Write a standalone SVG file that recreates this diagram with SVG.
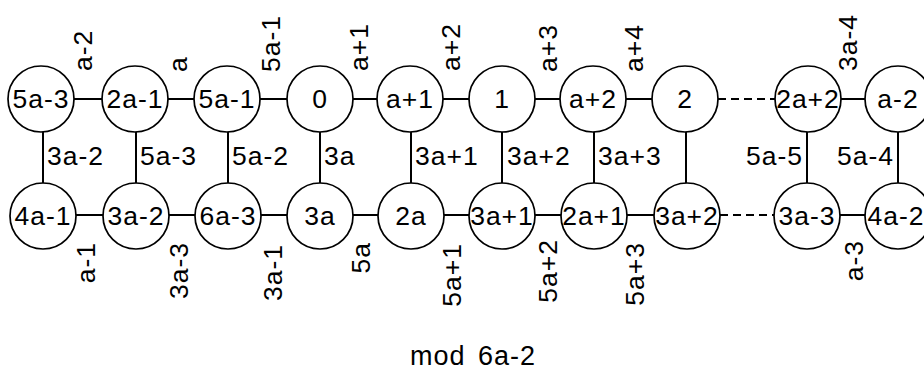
<svg xmlns="http://www.w3.org/2000/svg" width="924" height="370" viewBox="0 0 924 370">
<style>
  .n circle { fill: #fff; stroke: #000; stroke-width: 1.7; }
  text { font-family: "Liberation Sans", Arial, sans-serif; font-size: 26.5px; fill: #000; letter-spacing: 1px; }
  .c { text-anchor: middle; }
  .e line { stroke: #000; stroke-width: 2; }
  .e line.d { stroke-dasharray: 8 5; }
  .tl { text-anchor: start; }
  .bl { text-anchor: end; }
</style>
<rect width="924" height="370" fill="#fff"/>
<g id="connectors" class="e">
  <line x1="74" y1="99" x2="102" y2="99"/>
  <line x1="168" y1="99" x2="194" y2="99"/>
  <line x1="260" y1="99" x2="287" y2="99"/>
  <line x1="353" y1="99" x2="377" y2="99"/>
  <line x1="443" y1="99" x2="469" y2="99"/>
  <line x1="535" y1="99" x2="560" y2="99"/>
  <line x1="626" y1="99" x2="652" y2="99"/>
  <line class="d" x1="718" y1="99" x2="775" y2="99"/>
  <line x1="841" y1="99" x2="865" y2="99"/>
  <line x1="76" y1="215" x2="103" y2="215"/>
  <line x1="169" y1="215" x2="195" y2="215"/>
  <line x1="261" y1="215" x2="287" y2="215"/>
  <line x1="353" y1="215" x2="378" y2="215"/>
  <line x1="444" y1="215" x2="469" y2="215"/>
  <line x1="535" y1="215" x2="561" y2="215"/>
  <line x1="627" y1="215" x2="654" y2="215"/>
  <line class="d" x1="720" y1="215" x2="774" y2="215"/>
  <line x1="840" y1="215" x2="865" y2="215"/>
  <line x1="43" y1="132" x2="43" y2="183"/>
  <line x1="136" y1="132" x2="136" y2="183"/>
  <line x1="228" y1="132" x2="228" y2="183"/>
  <line x1="320" y1="132" x2="320" y2="183"/>
  <line x1="411" y1="132" x2="411" y2="183"/>
  <line x1="502" y1="132" x2="502" y2="183"/>
  <line x1="594" y1="132" x2="594" y2="183"/>
  <line x1="686" y1="132" x2="686" y2="183"/>
  <line x1="807" y1="132" x2="807" y2="183"/>
  <line x1="898" y1="132" x2="898" y2="183"/>
</g>
<g id="edge-labels">
  <text class="tl" transform="translate(92,71) rotate(-90)">a-2</text>
  <text class="tl" transform="translate(187,72) rotate(-90)">a</text>
  <text class="tl" transform="translate(280,72) rotate(-90)">5a-1</text>
  <text class="tl" transform="translate(368,71) rotate(-90)">a+1</text>
  <text class="tl" transform="translate(460,71) rotate(-90)">a+2</text>
  <text class="tl" transform="translate(557,72) rotate(-90)">a+3</text>
  <text class="tl" transform="translate(643,72) rotate(-90)">a+4</text>
  <text class="tl" transform="translate(857,71) rotate(-90)">3a-4</text>
  <text class="bl" transform="translate(95,242) rotate(-90)">a-1</text>
  <text class="bl" transform="translate(188,242) rotate(-90)">3a-3</text>
  <text class="bl" transform="translate(282,244) rotate(-90)">3a-1</text>
  <text class="bl" transform="translate(370,242) rotate(-90)">5a</text>
  <text class="bl" transform="translate(461,243) rotate(-90)">5a+1</text>
  <text class="bl" transform="translate(557,239) rotate(-90)">5a+2</text>
  <text class="bl" transform="translate(644,242) rotate(-90)">5a+3</text>
  <text class="bl" transform="translate(863,240) rotate(-90)">a-3</text>
  <text x="47" y="165">3a-2</text>
  <text x="140" y="165">5a-3</text>
  <text x="232" y="165">5a-2</text>
  <text x="324" y="165">3a</text>
  <text x="415" y="165">3a+1</text>
  <text x="507" y="165">3a+2</text>
  <text x="598" y="165">3a+3</text>
  <text x="803" y="165" text-anchor="end">5a-5</text>
  <text x="894" y="165" text-anchor="end">5a-4</text>
</g>
<g id="n-5a-3" class="n"><circle cx="41" cy="99" r="33"/><text class="c" x="41" y="108">5a-3</text></g>
<g id="n-2a-1" class="n"><circle cx="135" cy="99" r="33"/><text class="c" x="135" y="108">2a-1</text></g>
<g id="n-5a-1" class="n"><circle cx="227" cy="99" r="33"/><text class="c" x="227" y="108">5a-1</text></g>
<g id="n-0" class="n"><circle cx="320" cy="99" r="33"/><text class="c" x="320" y="108">0</text></g>
<g id="n-a+1" class="n"><circle cx="410" cy="99" r="33"/><text class="c" x="410" y="108">a+1</text></g>
<g id="n-1" class="n"><circle cx="502" cy="99" r="33"/><text class="c" x="502" y="108">1</text></g>
<g id="n-a+2" class="n"><circle cx="593" cy="99" r="33"/><text class="c" x="593" y="108">a+2</text></g>
<g id="n-2" class="n"><circle cx="685" cy="99" r="33"/><text class="c" x="685" y="108">2</text></g>
<g id="n-2a+2" class="n"><circle cx="808" cy="99" r="33"/><text class="c" x="808" y="108">2a+2</text></g>
<g id="n-a-2" class="n"><circle cx="898" cy="99" r="33"/><text class="c" x="898" y="108">a-2</text></g>
<g id="n-4a-1" class="n"><circle cx="43" cy="216" r="33"/><text class="c" x="43" y="225">4a-1</text></g>
<g id="n-3a-2" class="n"><circle cx="136" cy="216" r="33"/><text class="c" x="136" y="225">3a-2</text></g>
<g id="n-6a-3" class="n"><circle cx="228" cy="216" r="33"/><text class="c" x="228" y="225">6a-3</text></g>
<g id="n-3a" class="n"><circle cx="320" cy="216" r="33"/><text class="c" x="320" y="225">3a</text></g>
<g id="n-2a" class="n"><circle cx="411" cy="216" r="33"/><text class="c" x="411" y="225">2a</text></g>
<g id="n-3a+1" class="n"><circle cx="502" cy="216" r="33"/><text class="c" x="502" y="225">3a+1</text></g>
<g id="n-2a+1" class="n"><circle cx="594" cy="216" r="33"/><text class="c" x="594" y="225">2a+1</text></g>
<g id="n-3a+2" class="n"><circle cx="687" cy="216" r="33"/><text class="c" x="687" y="225">3a+2</text></g>
<g id="n-3a-3" class="n"><circle cx="807" cy="216" r="33"/><text class="c" x="807" y="225">3a-3</text></g>
<g id="n-4a-2" class="n"><circle cx="898" cy="216" r="33"/><text class="c" x="896" y="225">4a-2</text></g>
<text x="410" y="365" style="font-size:27px;word-spacing:4px">mod 6a-2</text>
</svg>
